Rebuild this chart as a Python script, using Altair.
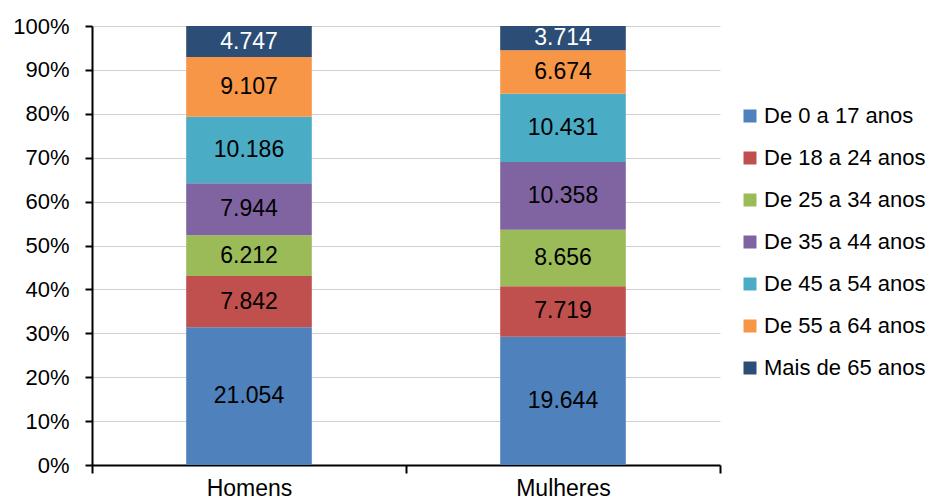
import altair as alt
import pandas as pd

categorias = ["Homens", "Mulheres"]
faixas = ["De 0 a 17 anos", "De 18 a 24 anos", "De 25 a 34 anos", "De 35 a 44 anos",
          "De 45 a 54 anos", "De 55 a 64 anos", "Mais de 65 anos"]
homens = [21054, 7842, 6212, 7944, 10186, 9107, 4747]
mulheres = [19644, 7719, 8656, 10358, 10431, 6674, 3714]
cores = ["#4F81BD", "#C0504D", "#9BBB59", "#8064A2", "#4BACC6", "#F79646", "#2C4D75"]
cor_texto = ["black", "black", "black", "black", "black", "black", "white"]

rows = []
for cat, vals in zip(categorias, [homens, mulheres]):
    for i, (f, v) in enumerate(zip(faixas, vals)):
        rows.append({"sexo": cat, "faixa": f, "idx": i, "valor": v,
                     "rotulo": f"{v:,}".replace(",", "."), "tcor": cor_texto[i]})
df = pd.DataFrame(rows)

FONT = "Liberation Sans"

x = alt.X("sexo:N", sort=categorias, title=None,
          scale=alt.Scale(paddingInner=0, paddingOuter=0),
          axis=alt.Axis(labelAngle=0, labelFontSize=23, labelFont=FONT, labelColor="black",
                        domainColor="black", domainWidth=2, tickColor="black", tickWidth=2,
                        tickSize=8, tickBand="extent", labelPadding=4, grid=False))

bars = alt.Chart(df).mark_bar(width=alt.RelativeBandSize(0.4)).encode(
    x=x,
    y=alt.Y("valor:Q", stack="normalize", title=None,
            scale=alt.Scale(domain=[0, 1], nice=False),
            axis=alt.Axis(format=".0%", values=[i / 10 for i in range(11)],
                          labelFontSize=22, labelFont=FONT, labelColor="black",
                          domainColor="black", domainWidth=2, tickColor="black",
                          tickWidth=2, tickSize=7, labelPadding=16,
                          gridColor="#D0D0D0", gridWidth=1)),
    color=alt.Color("faixa:N", sort=faixas,
                    scale=alt.Scale(domain=faixas, range=cores),
                    legend=alt.Legend(title=None, orient="none", legendX=647, legendY=79,
                                      labelFontSize=22, labelFont=FONT, labelColor="black",
                                      symbolType="square", symbolSize=169,
                                      symbolStrokeWidth=0, rowPadding=20,
                                      labelOffset=3, padding=0, labelLimit=300)),
    order=alt.Order("idx:Q", sort="ascending"),
)

texts = alt.Chart(df).transform_joinaggregate(
    total="sum(valor)", groupby=["sexo"]
).transform_window(
    cum="sum(valor)", sort=[alt.SortField("idx", order="ascending")], groupby=["sexo"],
    frame=[None, 0]
).transform_calculate(
    mid="(datum.cum - datum.valor / 2) / datum.total"
).mark_text(fontSize=23, font=FONT, baseline="middle", align="center").encode(
    x=alt.X("sexo:N", sort=categorias),
    y=alt.Y("mid:Q"),
    text="rotulo:N",
    color=alt.Color("tcor:N", scale=None),
)

chart = alt.layer(bars, texts).properties(
    width=628, height=439,
    padding={"left": 84, "top": 18, "right": 210, "bottom": 40},
    autosize=alt.AutoSizeParams(type="none"),
).configure_view(stroke=None).configure_axisX(grid=False)

chart.save("out.html", embed_options={"renderer": "svg", "actions": False})
